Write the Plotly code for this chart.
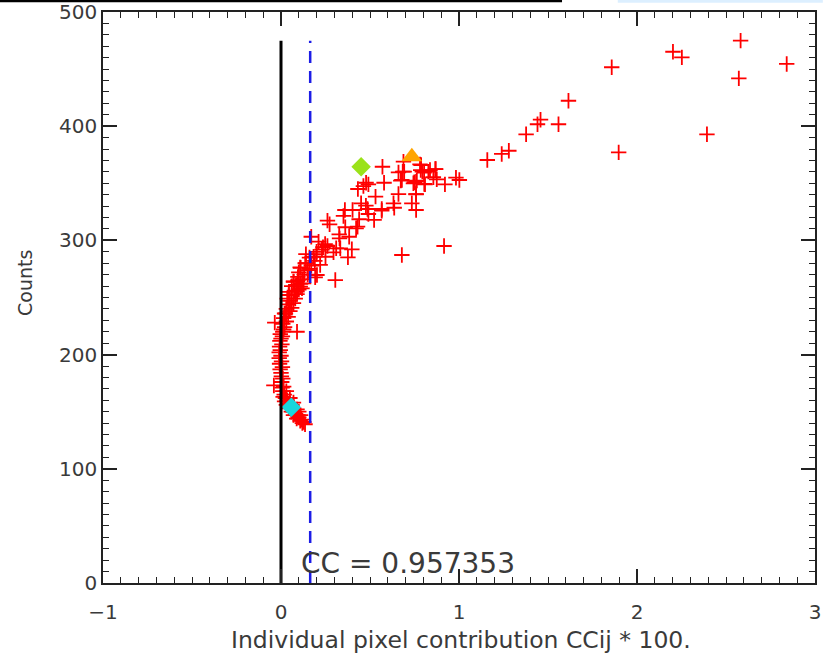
import plotly.graph_objects as go

# ---- data ----
# sparse upper-right points
x_sparse = [2.582, 2.202, 2.252, 2.841, 1.858, 2.572, 1.615, 1.458, 1.441, 1.559, 1.377, 2.393,
            1.280, 1.240, 1.897, 1.159, 0.983, 1.002, 0.921, 0.869, 0.875, 0.856, 0.828, 0.804,
            0.781, 0.785, 0.809, 0.759, 0.744, 0.759, 0.735, 0.759, 0.916, 0.684, 0.679, 0.688,
            0.679]
y_sparse = [474.9, 465.2, 460.3, 454.5, 451.6, 441.9, 422.3, 405.7, 401.7, 401.7, 392.9, 392.9,
            378.5, 375.7, 377.1, 370.4, 354.9, 352.9, 349.1, 362.5, 353.5, 355.3, 360.2, 359.3,
            366.6, 361.6, 349.1, 351.4, 350.0, 340.4, 332.5, 326.6, 295.1, 360.2, 352.9, 368.9,
            287.2]

# middle cluster
x_mid = [0.570, 0.660, 0.692, 0.787, 0.794, 0.837, 0.867, 0.673, 0.579, 0.749, 0.763, 0.805,
         0.478, 0.491, 0.463, 0.432, 0.660, 0.759, 0.531, 0.450, 0.477, 0.486, 0.632, 0.636,
         0.566, 0.566, 0.402, 0.359, 0.351, 0.491, 0.439, 0.523, 0.261, 0.273, 0.430, 0.422,
         0.361, 0.327, 0.329, 0.383, 0.170, 0.211, 0.248, 0.236, 0.261, 0.310, 0.333, 0.398,
         0.295, 0.250, 0.376, 0.183, 0.220, 0.136, 0.108, 0.305, 0.202, 0.192, 0.071, 0.108,
         0.127, 0.090, 0.043, 0.150, 0.160, 0.118, 0.095, 0.140, 0.200, 0.230]
y_mid = [364.5, 359.6, 360.2, 366.0, 360.2, 361.6, 362.5, 352.3, 350.5, 350.9, 352.3, 349.4,
         350.5, 349.1, 347.6, 345.0, 340.6, 340.6, 338.3, 332.5, 330.4, 327.5, 332.5, 328.6,
         327.5, 326.0, 326.6, 326.6, 321.4, 323.1, 318.5, 317.9, 317.3, 314.1, 312.0, 310.6,
         311.5, 305.3, 301.8, 303.2, 303.2, 298.9, 296.8, 294.0, 295.1, 293.1, 293.1, 292.2,
         289.6, 285.7, 285.2, 285.7, 278.5, 280.0, 276.4, 265.3, 269.7, 267.7, 263.8, 259.5,
         262.4, 255.1, 252.2, 270.0, 275.0, 258.0, 265.0, 288.0, 290.0, 292.0]

# dense curve near zero
x_dense = [0.135, 0.128, 0.120, 0.115, 0.108, 0.100, 0.095, 0.088, 0.082, 0.075, 0.070, 0.065,
           0.058, 0.052, 0.045, 0.040, 0.035, 0.030, 0.025, 0.020, 0.018, 0.012, 0.010, 0.006,
           0.015, 0.004, 0.010, 0.002, 0.070, 0.090, 0.050, 0.030, 0.100, 0.110,
           0.000, -0.005, 0.008, -0.008, 0.003, -0.010, 0.000, -0.010, -0.004, -0.008, 0.005,
           -0.006, 0.000, 0.008, -0.004, 0.010, 0.015, -0.040, -0.035,
           0.020, 0.010, 0.030, 0.015, 0.040, 0.025, 0.050, 0.030, 0.060, 0.040, 0.070, 0.050,
           0.035, 0.080, 0.060, 0.090, 0.045, 0.075, 0.100, 0.060, 0.085, 0.110, 0.070, 0.120,
           0.095, 0.130, 0.100, 0.150, 0.110, 0.170, 0.140, 0.190, 0.160, 0.200, 0.090, 0.020]
y_dense = [139, 141, 140, 143, 142, 145, 147, 144, 148, 150, 147, 152,
           150, 155, 153, 157, 160, 156, 162, 159, 165, 163, 168, 171,
           172, 176, 179, 181, 158, 152, 162, 168, 150, 147,
           184, 187, 189, 192, 194, 197, 199, 202, 204, 207, 209,
           212, 214, 216, 218, 220, 222, 173, 228,
           224, 227, 229, 232, 233, 236, 238, 240, 241, 244, 245, 247,
           249, 249, 252, 253, 255, 256, 257, 260, 261, 262, 264, 266,
           268, 270, 272, 274, 276, 278, 280, 282, 285, 288, 220, 236]

x_red = x_sparse + x_mid + x_dense
y_red = y_sparse + y_mid + y_dense

# special markers
green_pt = (0.450, 364.5)
orange_pt = (0.735, 373.3)
cyan_pt = (0.058, 153.9)

cc_value = 0.957353
blue_x = 0.164
line_top = max(y_red)

fig = go.Figure()
fig.add_trace(go.Scatter(
    x=x_red, y=y_red, mode="markers",
    marker=dict(symbol="cross-thin", size=11, line=dict(color="#ff0000", width=1.8)),
    showlegend=False, hoverinfo="skip"))
fig.add_trace(go.Scatter(
    x=[green_pt[0]], y=[green_pt[1]], mode="markers",
    marker=dict(symbol="diamond", size=15, color="#9be21a"), showlegend=False))
fig.add_trace(go.Scatter(
    x=[orange_pt[0]], y=[orange_pt[1]], mode="markers",
    marker=dict(symbol="triangle-up", size=18, color="#ffa500"), showlegend=False))
fig.add_trace(go.Scatter(
    x=[cyan_pt[0]], y=[cyan_pt[1]], mode="markers",
    marker=dict(symbol="diamond", size=15, color="#19d6dc"), showlegend=False))
fig.add_trace(go.Scatter(
    x=[0, 0], y=[0, line_top], mode="lines",
    line=dict(color="black", width=3), showlegend=False))
fig.add_trace(go.Scatter(
    x=[blue_x, blue_x], y=[0, line_top], mode="lines",
    line=dict(color="#1c1ce6", width=2.5, dash="12px,8px"), showlegend=False))

font_txt = dict(family="DejaVu Sans", color="#3a3a3a")

fig.update_layout(
    width=823, height=659,
    margin=dict(l=103, r=8, t=12, b=76),
    paper_bgcolor="white", plot_bgcolor="white",
    xaxis=dict(range=[-1, 3], dtick=1, tick0=0, ticks="inside", ticklen=14, tickwidth=1.5,
               tickcolor="#222", showline=True, linecolor="#222", linewidth=1.5,
               mirror="allticks", showgrid=False, zeroline=False, automargin=False,
               tickfont=dict(size=20, **font_txt), ticklabelstandoff=10,
               minor=dict(dtick=0.1, ticks="inside", ticklen=6, tickwidth=1.2,
                          tickcolor="#222", showgrid=False)),
    yaxis=dict(range=[0, 500], dtick=100, ticks="inside", ticklen=14, tickwidth=1.5,
               tickcolor="#222", showline=True, linecolor="#222", linewidth=1.5,
               mirror="allticks", showgrid=False, zeroline=False, automargin=False,
               tickfont=dict(size=20, **font_txt), ticklabelstandoff=0,
               minor=dict(dtick=10, ticks="inside", ticklen=6, tickwidth=1.2,
                          tickcolor="#222", showgrid=False)),
    annotations=[
        dict(text=f"CC = {cc_value}", x=0.100, y=17.5, xref="x", yref="y",
             xanchor="left", yanchor="middle", showarrow=False,
             font=dict(size=28, **font_txt)),
        dict(text="Individual pixel contribution CCij * 100.", x=0.5035, y=-0.0998,
             xref="paper", yref="paper", xanchor="center", yanchor="middle",
             showarrow=False, font=dict(size=23.5, **font_txt)),
        dict(text="Counts", x=-0.1096, y=0.5254, xref="paper", yref="paper",
             xanchor="center", yanchor="middle", textangle=-90, showarrow=False,
             font=dict(size=19, **font_txt)),
    ],
    shapes=[
        dict(type="line", xref="paper", yref="paper", x0=-0.1447, x1=0.6447,
             y0=1.0193, y1=1.0193, line=dict(color="black", width=2.5)),
        dict(type="rect", xref="paper", yref="paper", x0=0.723, x1=1.011,
             y0=1.016, y1=1.021, line=dict(width=0), fillcolor="#dcefff"),
    ],
)

fig.write_html("out.html")
